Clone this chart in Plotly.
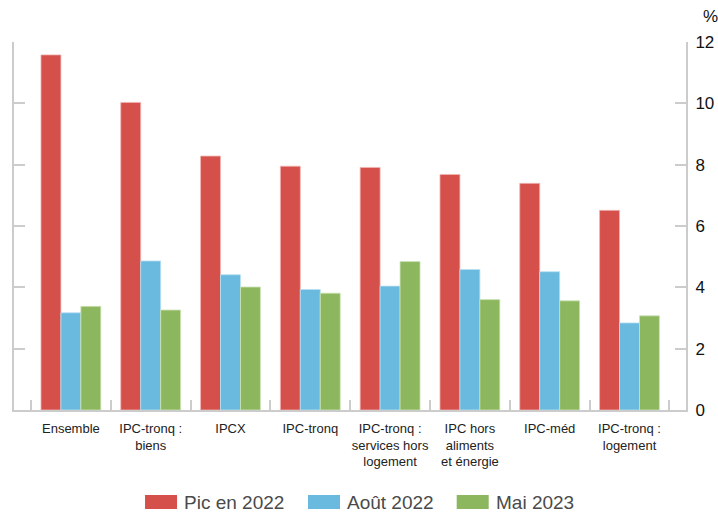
import plotly.graph_objects as go

categories = [
    "Ensemble",
    "IPC-tronq :<br>biens",
    "IPCX",
    "IPC-tronq",
    "IPC-tronq :<br>services hors<br>logement",
    "IPC hors<br>aliments<br>et énergie",
    "IPC-méd",
    "IPC-tronq :<br>logement",
]
series_names = ["Pic en 2022", "Août 2022", "Mai 2023"]
pic_2022 = [11.58, 10.03, 8.28, 7.95, 7.91, 7.68, 7.39, 6.51]
aout_2022 = [3.17, 4.86, 4.41, 3.93, 4.04, 4.58, 4.51, 2.84]
mai_2023 = [3.38, 3.26, 4.01, 3.81, 4.84, 3.60, 3.56, 3.07]
y_ticks = [0, 2, 4, 6, 8, 10, 12]

colors = ["#d54f4b", "#6ab9de", "#8cb75f"]
edges = ["#f0b5b2", "#b9e0f2", "#cde3b6"]
values = [pic_2022, aout_2022, mai_2023]
axis_grey = "#cccccc"

fig = go.Figure()
for name, vals, col, edge in zip(series_names, values, colors, edges):
    fig.add_trace(go.Bar(
        x=categories, y=vals, name=name,
        marker=dict(color=col, line=dict(color=edge, width=0.8)),
        showlegend=False,
    ))

# Legend drawn as wide swatches under the plot
legend_x = [0.195, 0.4375, 0.6588]
for name, col, lx in zip(series_names, colors, legend_x):
    fig.add_shape(type="rect", xref="paper", yref="paper",
                  x0=lx, x1=lx + 0.0476, y0=-0.269, y1=-0.231,
                  fillcolor=col, line=dict(width=0))
    fig.add_annotation(xref="paper", yref="paper", x=lx + 0.055, y=-0.251,
                       text=name, showarrow=False, xanchor="left", yanchor="middle",
                       font=dict(size=19, color="#4a4a4a", family="Liberation Sans, Arial"))

# Unit label above the right axis
fig.add_annotation(xref="paper", yref="paper", x=1.036, y=1.068, text="%",
                   showarrow=False, xanchor="center", yanchor="middle",
                   font=dict(size=17, color="#111111", family="Liberation Sans, Arial"))

fig.update_layout(
    width=718, height=512,
    margin=dict(l=14, r=32, t=42, b=102),
    paper_bgcolor="white", plot_bgcolor="white",
    barmode="group", bargap=0.25, bargroupgap=0,
    xaxis=dict(
        type="category", range=[-0.713, 7.708], automargin=False,
        tickson="boundaries", ticks="inside", ticklen=10, tickcolor=axis_grey, tickwidth=1.5,
        showline=True, linecolor=axis_grey, linewidth=2,
        showgrid=False, zeroline=False, tickangle=0,
        tickfont=dict(size=13, color="#222222", family="Liberation Sans, Arial"),
        ticklabelstandoff=5,
    ),
    yaxis=dict(
        range=[0, 12], side="right", automargin=False,
        tickmode="array", tickvals=y_ticks,
        ticks="inside", ticklen=11, tickcolor=axis_grey, tickwidth=1.5,
        showline=True, linecolor=axis_grey, linewidth=2, mirror="ticks",
        showgrid=False, zeroline=False,
        tickfont=dict(size=17, color="#111111", family="Liberation Sans, Arial"),
        ticklabelstandoff=4,
    ),
)

fig.write_html("out.html")
